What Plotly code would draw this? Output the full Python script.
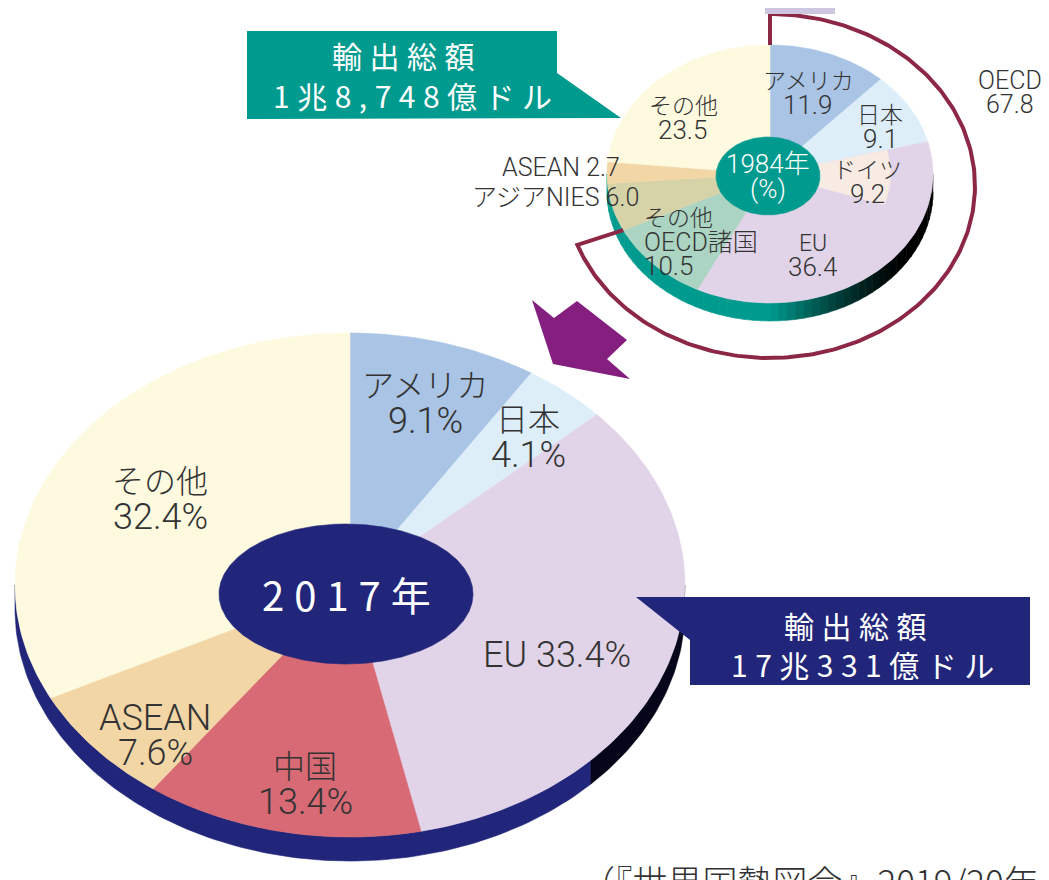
import numpy as np
import plotly.graph_objects as go

# ---------------- data ----------------
cats_2017 = ["アメリカ", "日本", "EU", "中国", "ASEAN", "その他"]
vals_2017 = [9.1, 4.1, 33.4, 13.4, 7.6, 32.4]

cats_1984 = ["アメリカ", "日本", "EU", "その他OECD諸国", "アジアNIES", "ASEAN", "その他"]
vals_1984 = [11.9, 9.1, 36.4, 10.5, 6.0, 2.7, 23.5]
germany_1984 = 9.2          # share of Germany (inside EU)
oecd_1984 = 67.8            # OECD total (アメリカ+日本+EU+その他OECD)

year_2017 = "2017年"
year_1984 = "1984年"
total_1984 = "1兆8,748億ドル"
total_2017 = "17兆331億ドル"
total_title = "輸出総額"
source_text = "（『世界国勢図会』2019/20年版）"

# ---------------- styles ----------------
colors_2017 = ["#a9c4e4", "#ddeef9", "#e2d4e8", "#d86a75", "#f2d6a6", "#fefadf"]
colors_1984 = ["#a9c4e4", "#ddeef9", "#e2d4e8", "#abd5c2", "#d6d3a9", "#f2d6a6", "#fefadf"]
germany_color = "#f8ebe3"
NAVY = "#22267a"
TEAL = "#009a8e"
RING = "#8c2846"
PURPLE = "#851f7f"
TXT = "#333333"
FONT = "Roboto, 'Noto Sans CJK JP', sans-serif"
FONT_JP = "'Noto Sans CJK JP', sans-serif"
PAGE_OFF = 8   # default body margin of the html page

BIG = dict(cx=350, cy=585, rx=335, ry=252, depth=24)
SMALL = dict(cx=770, cy=174, rx=163, ry=129, depth=18)
RING_G = dict(cx=770, cy=186, rx=205, ry=172)


def pt(g, ang, r=1.0, dy=0.0):
    a = np.radians(ang)
    return g["cx"] + r * g["rx"] * np.sin(a), g["cy"] - r * g["ry"] * np.cos(a) + dy


def arc(g, a0, a1, r=1.0, dy=0.0):
    n = max(2, int(abs(a1 - a0) / 1.0) + 1)
    angs = np.linspace(a0, a1, n)
    xs, ys = pt(g, angs, r, dy)
    return list(xs), list(ys)


fig = go.Figure()


def poly(xs, ys, color, lw=0.6):
    fig.add_trace(go.Scatter(x=xs, y=ys, mode="lines", fill="toself",
                             fillcolor=color, line=dict(color=color, width=lw),
                             hoverinfo="skip", showlegend=False))


def band(g, a0, a1, color):
    ox, oy = arc(g, a0, a1, dy=g["depth"])
    ix, iy = arc(g, a1, a0)
    poly(ox + ix, oy + iy, color)


def slices(g, vals, cols):
    tot = sum(vals)
    bounds = np.concatenate([[0], np.cumsum(vals) / tot * 360])
    for i, c in enumerate(cols):
        xs, ys = arc(g, bounds[i], bounds[i + 1])
        poly([g["cx"]] + xs + [g["cx"]], [g["cy"]] + ys + [g["cy"]], c)
    return bounds


# ---------- big pie (2017) ----------
band(BIG, 134, 270, NAVY)
band(BIG, 90, 134, "#06061a")
b17 = slices(BIG, vals_2017, colors_2017)
hx, hy = arc(dict(cx=346, cy=594, rx=127, ry=70), 0, 360)
poly(hx, hy, NAVY)

# ---------- small pie (1984) ----------
steps = np.arange(90, 270, 3)
for a in steps:
    mx, _ = pt(SMALL, a + 1.5)
    t = float(np.clip((mx - 770) / (905 - 770), 0, 1))
    col = "rgb({},{},{})".format(0, int(155 * (1 - t) ** 1.3), int(143 * (1 - t) ** 1.3))
    band(SMALL, a, a + 3.2, col)
b84 = slices(SMALL, vals_1984, colors_1984)
tot84 = sum(vals_1984)
g0 = b84[2]
g1 = g0 + germany_1984 / tot84 * 360
gx, gy = arc(SMALL, g0, g1, r=0.74)
poly([SMALL["cx"]] + gx + [SMALL["cx"]], [SMALL["cy"]] + gy + [SMALL["cy"]], germany_color)
hx, hy = arc(dict(cx=768, cy=176, rx=52, ry=39), 0, 360)
poly(hx, hy, TEAL)

# ---------- OECD bracket ----------
oecd_end = b84[4]
rx_, ry_ = arc(RING_G, 0, 250)
px0, py0 = pt(SMALL, 0)
px1, py1 = pt(SMALL, oecd_end)
fig.add_trace(go.Scatter(x=[px0] + rx_ + [px1], y=[py0] + ry_ + [py1], mode="lines",
                         line=dict(color=RING, width=4), hoverinfo="skip", showlegend=False))

# ---------- decorative shapes ----------
shapes = [
    dict(type="rect", x0=765, x1=835, y0=7, y1=14, fillcolor="#cdc6e0", line=dict(width=0)),
    dict(type="path", path="M532,300 L554,318 L577,301 L627,340 L607,359 L630,379 L553,364 Z",
         fillcolor=PURPLE, line=dict(width=0)),
    dict(type="path", path="M247,31 L557,31 L557,73 L621,118 L247,119 Z",
         fillcolor=TEAL, line=dict(width=0)),
    dict(type="path", path="M636,597 L1030,597 L1030,685 L690,685 L690,640 Z",
         fillcolor=NAVY, line=dict(width=0)),
]
for s in shapes:
    s.update(xref="x", yref="y", layer="above")

annotations = []


def label(x, y, lines, sizes, color=TXT, lh=None, xanchor="center", family=FONT, weight=300):
    if not isinstance(sizes, (list, tuple)):
        sizes = [sizes] * len(lines)
    lh = lh or sizes[0] * 1.02
    n = len(lines)
    for i, (t, sz) in enumerate(zip(lines, sizes)):
        yy = y + (i - (n - 1) / 2) * lh
        annotations.append(dict(x=x, y=yy, xref="x", yref="y", text=t, showarrow=False,
                                xanchor=xanchor, yanchor="middle",
                                font=dict(family=family, size=sz, color=color, weight=weight)))


def spaced(s, sp="\u2005"):
    return sp.join(list(s))


# big pie labels
pos17 = [(425, 403), (528, 437), (557, 655), (305, 784), (155, 735), (160, 499)]
for c, v, (x, y) in zip(cats_2017, vals_2017, pos17):
    if c == "EU":
        label(x, y, [f"{c} {v}%"], 36)
    else:
        label(x, y, [c, f"{v}%"], [32 if c != "ASEAN" else 36, 36], lh=35)
label(346, 594, [spaced(year_2017)], 40, color="white", family=FONT_JP, weight=400)

# small pie labels
pos84 = {"アメリカ": (808, 93), "日本": (880, 127), "EU": (813, 255), "その他": (683, 118)}
for c, v in zip(cats_1984, vals_1984):
    if c in pos84:
        x, y = pos84[c]
        label(x, y, [c, f"{v}"], [23, 26], lh=24)
    elif c == "その他OECD諸国":
        label(642, 242, ["その他", "OECD諸国", f"{v}"], [23, 25, 26], lh=24, xanchor="left")
    elif c == "アジアNIES":
        label(641, 197, [f"{c} {v}"], 25, xanchor="right")
    elif c == "ASEAN":
        label(622, 167, [f"{c} {v}"], 25, xanchor="right")
label(867, 182, ["ドイツ", f"{germany_1984}"], [23, 26], lh=24)
label(768, 176, [year_1984, "(%)"], 26, color="white", lh=25)
label(1010, 92, ["OECD", f"{oecd_1984}"], 25, lh=24)

# callouts
label(403, 55, [spaced(total_title)], 30, color="white", family=FONT_JP, weight=400)
label(412, 95, [spaced(total_1984)], 30, color="white", family=FONT_JP, weight=400)
label(855, 625, [spaced(total_title)], 30, color="white", family=FONT_JP, weight=400)
label(862, 664, [spaced(total_2017)], 30, color="white", family=FONT_JP, weight=400)

# source (cut off at the bottom edge)
annotations.append(dict(x=578, y=853, xref="x", yref="y", text=source_text, showarrow=False,
                        xanchor="left", yanchor="top",
                        font=dict(family=FONT_JP, size=35, color=TXT, weight=300)))

fig.update_layout(
    width=1049, height=880,
    margin=dict(l=0, r=0, t=0, b=0),
    paper_bgcolor="white", plot_bgcolor="white",
    xaxis=dict(range=[PAGE_OFF, 1049 + PAGE_OFF], visible=False, fixedrange=True),
    yaxis=dict(range=[880 + PAGE_OFF, PAGE_OFF], visible=False, fixedrange=True),
    shapes=shapes, annotations=annotations, showlegend=False,
)
fig.write_html("out.html")
